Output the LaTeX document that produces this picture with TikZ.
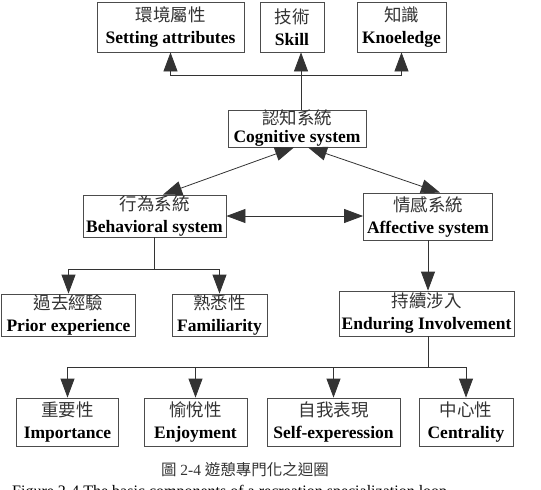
\documentclass[tikz,border=0pt]{standalone}
\usepackage{fontspec}
\setmainfont{Liberation Serif}
\newfontfamily\cjk{Noto Sans CJK TC}
\usetikzlibrary{arrows.meta}

\newcommand{\twoline}[2]{{\cjk\mdseries\color{black!80}\fontsize{17.5}{17.5}\selectfont #1}\\#2}

\tikzset{
  arr/.style={draw=black!80, line width=0.8pt, -{Triangle[length=19pt,width=14pt]}},
  darr/.style={draw=black!80, line width=0.8pt, {Triangle[length=19pt,width=14pt]}-{Triangle[length=19pt,width=14pt]}},
  conn/.style={draw=black!80, line width=0.8pt}
}

\begin{document}
\begin{tikzpicture}[x=1pt,y=-1pt]
\useasboundingbox (0,0) rectangle (541,490);
\begin{scope}[every node/.style={draw=black!70, line width=0.8pt, inner xsep=2pt, inner ysep=0pt, align=center, font=\fontsize{17.5}{22}\selectfont\bfseries}]

    \node [minimum width=147, minimum height=50] (set) at (170.5,27) {\twoline{環境屬性}{Setting attributes}};
    \node [minimum width=64, minimum height=50] (skill) at (292,27) {\twoline{技術}{Skill}};
    \node [minimum width=89, minimum height=50] (know) at (401.5,27) {\twoline{知識}{Knoeledge}};

    \node [minimum width=138, minimum height=37, font=\fontsize{17.5}{18}\selectfont\bfseries] (cog) at (297,128.5) {\twoline{認知系統}{Cognitive system}};

    \node [minimum width=143, minimum height=42] (beh) at (154.5,216) {\twoline{行為系統}{Behavioral system}};
    \node [minimum width=129, minimum height=47] (aff) at (428,216.5) {\twoline{情感系統}{Affective system}};

    \node [minimum width=134, minimum height=42] (prior) at (68.5,315) {\twoline{過去經驗}{Prior experience}};
    \node [minimum width=95, minimum height=42] (fam) at (219.5,315) {\twoline{熟悉性}{Familiarity}};
    \node [minimum width=175, minimum height=45] (endur) at (426.5,313.5) {\twoline{持續涉入}{Enduring Involvement}};

    \node [minimum width=102, minimum height=48] (imp) at (67.5,422) {\twoline{重要性}{Importance}};
    \node [minimum width=103, minimum height=48] (enj) at (195.5,422) {\twoline{愉悅性}{Enjoyment}};
    \node [minimum width=133, minimum height=48] (self) at (333.5,422) {\twoline{自我表現}{Self-experession}};
    \node [minimum width=94, minimum height=48] (cent) at (466,422) {\twoline{中心性}{Centrality}};

\end{scope}

    \coordinate (cfork) at (301,75);
    \coordinate (bfork) at (154.5,269);
    \coordinate (efork) at (428,367);

    \draw [arr] (cog.north -| cfork) -- (skill.south -| cfork);
    \draw [arr] (cfork) -| (set.south);
    \draw [arr] (cfork) -| (know.south);

    \draw [darr] ([xshift=8.5pt]beh.north) -- ([xshift=-3pt]cog.south);
    \draw [darr] ([xshift=12pt]aff.north) -- ([xshift=11pt]cog.south);
    \draw [darr] (beh.east) -- (beh.east -| aff.west);

    \draw [conn] (beh.south) -- (bfork);
    \draw [arr] (bfork) -| (prior.north);
    \draw [arr] (bfork) -| (fam.north);

    \draw [arr] (aff.south) -- (aff.south |- endur.north);
    \draw [conn] (endur.south -| efork) -- (efork);
    \draw [arr] (efork) -| (imp.north);
    \draw [arr] (efork) -| (enj.north);
    \draw [arr] (efork) -| (self.north);
    \draw [arr] (efork) -| (cent.north);

    \node [font=\fontsize{15.5}{15.5}\selectfont, text=black!80] (cap) at (245,470) {{\cjk 圖} 2-4 {\cjk 遊憩專門化之迴圈}};
    \node [font=\fontsize{16}{16}\selectfont, anchor=base west, inner sep=0pt] (capen) at (12,496) {Figure 2-4 The basic components of a recreation specialization loop};

\end{tikzpicture}
\end{document}
